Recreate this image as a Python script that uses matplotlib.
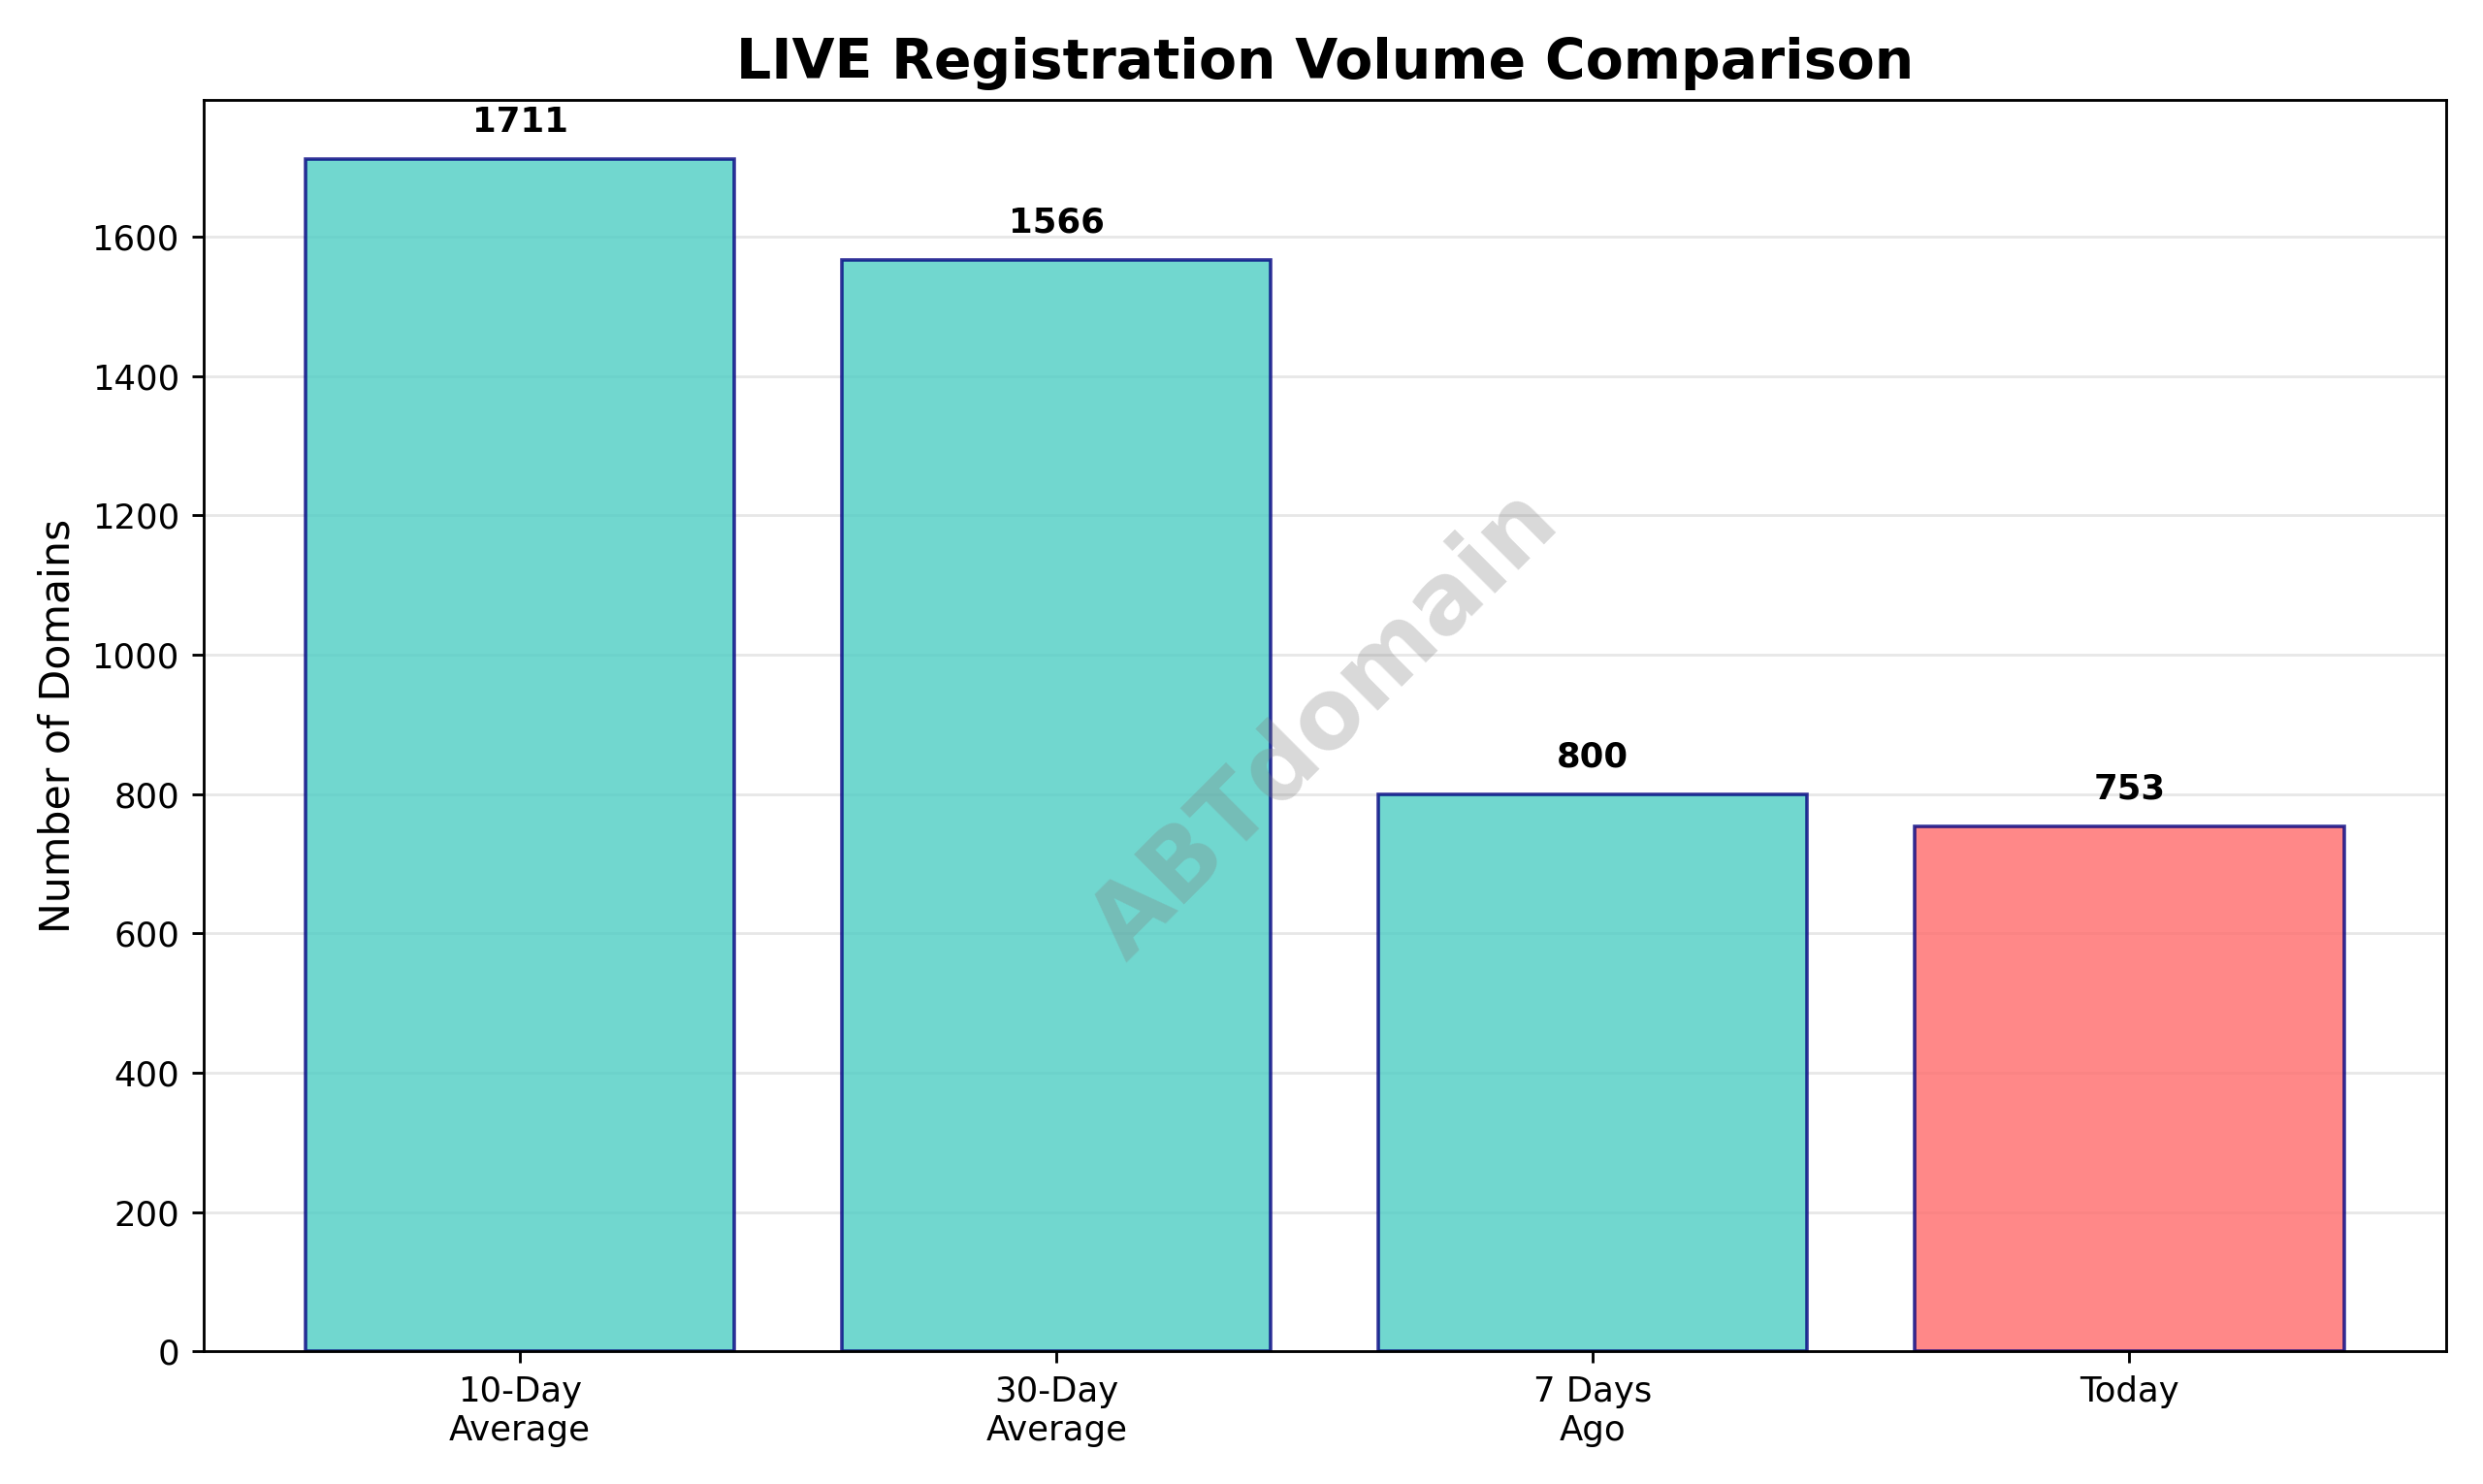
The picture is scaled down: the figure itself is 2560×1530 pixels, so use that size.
import matplotlib
matplotlib.use("Agg")
import matplotlib.pyplot as plt

categories = ["10-Day\nAverage", "30-Day\nAverage", "7 Days\nAgo", "Today"]
values = [1711, 1566, 800, 753]
colors = ["#4ECDC4", "#4ECDC4", "#4ECDC4", "#FF6B6B"]

fig, ax = plt.subplots(figsize=(10, 5.977), dpi=256)
bars = ax.bar(categories, values, color=colors, alpha=0.8, edgecolor="navy", linewidth=1)
for b, v in zip(bars, values):
    ax.text(b.get_x() + b.get_width() / 2, v + 30, f"{v}", ha="center", va="bottom",
            fontweight="bold", fontsize=10)
ax.set_ylim(0, max(values) * 1.05)
ax.set_ylabel("Number of Domains", fontsize=12)
ax.set_title("LIVE Registration Volume Comparison", fontsize=16, fontweight="bold")
ax.grid(axis="y", alpha=0.3)
ax.set_axisbelow(True)
ax.text(0.5, 0.5, "ABTdomain", transform=ax.transAxes, fontsize=28, color="gray",
        alpha=0.3, rotation=45, ha="center", va="center", fontweight="bold")
fig.tight_layout()
fig.savefig("out.png", dpi=256)
